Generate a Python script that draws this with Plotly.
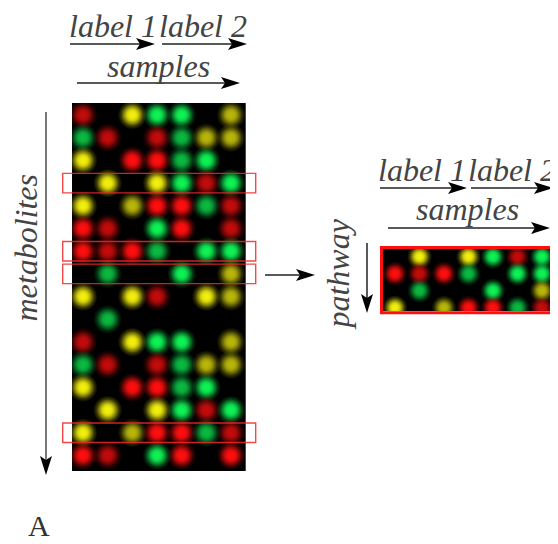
import math
import plotly.graph_objects as go

W, H = 558, 544          # browser window
OX, OY = 8, 8            # default page body margin
FW, FH = W - OX, H - OY  # figure size so the chart fills the window

# ---- data: dot code per metabolite row (7 samples each)
# R/G/Y = bright red/green/yellow, lowercase = weaker, '.' = no signal
metabolite_rows = [
    "r.YGG.y",
    "gr.rgyy",
    "Y.RRgG.",
    ".Y.YGrG",
    "Y.yRRgr",
    "Rr.GR.r",
    "RrRg.GG",
    ".g..G.y",
    "Y.Yr.Yy",
    ".g.....",
    "r.YGG.y",
    "gr.rgyy",
    "Y.RRgG.",
    ".Y.YGrG",
    "Y.yRRgr",
    "Rr.GR.R",
]
pathway_rows = [3, 6, 7, 14]
base_colors = {"R": (255, 14, 14), "G": (14, 242, 84), "Y": (242, 238, 14)}
levels = {True: 1.0, False: 0.76}

n_rows = len(metabolite_rows)


def rgb(c, k=1.0, a=None):
    v = tuple(max(0, min(255, round(x * k))) for x in c)
    if a is None:
        return "rgb(%d,%d,%d)" % v
    return "rgba(%d,%d,%d,%g)" % (v + (a,))


def dots(rows, row_ids):
    xs, ys, cols = [], [], []
    for k, r in enumerate(row_ids):
        for j, ch in enumerate(rows[r]):
            if ch == ".":
                continue
            xs.append(j)
            ys.append(k)
            cols.append((base_colors[ch.upper()], levels[ch.isupper()]))
    return xs, ys, cols


def px(x):
    return (x - OX) / FW


def py(y):
    return 1 - (y - OY) / FH


fig = go.Figure()


def add_dots(xs, ys, cols, xa, ya, sizes):
    # plotly radial gradient: gradient.color at centre -> marker.color at rim
    for size in sizes:
        fig.add_trace(go.Scatter(
            x=xs, y=ys, mode="markers", xaxis=xa, yaxis=ya, hoverinfo="skip",
            marker=dict(size=size, color=[rgb(c, l, 0) for c, l in cols], line_width=0,
                        gradient=dict(type="radial", color=[rgb(c, l) for c, l in cols])),
            showlegend=False))


xs, ys, cols = dots(metabolite_rows, list(range(n_rows)))
add_dots(xs, ys, cols, "x", "y", (29, 22, 15))
xs2, ys2, cols2 = dots(metabolite_rows, pathway_rows)
add_dots(xs2, ys2, cols2, "x2", "y2", (25, 19, 13))

# layout geometry (pixels in the window)
L_left, L_right, L_top, L_bot = 72, 245.7, 103, 471
c0, cstep = 83, 24.67
r0, rstep = 115, 22.7
R_left, R_right, R_top, R_bot = 383, 552, 249, 311
rc0, rcstep = 395, 24.5
rr0, rrstep = 256.7, 17

ax_common = dict(showgrid=False, zeroline=False, showticklabels=False, ticks="", showline=False)
fig.update_layout(
    width=FW, height=FH, margin=dict(l=0, r=0, t=0, b=0),
    paper_bgcolor="white", plot_bgcolor="black",
    xaxis=dict(domain=[px(L_left), px(L_right)],
               range=[(L_left - c0) / cstep, (L_right - c0) / cstep], **ax_common),
    yaxis=dict(domain=[py(L_bot), py(L_top)],
               range=[(L_bot - r0) / rstep, (L_top - r0) / rstep], **ax_common),
    xaxis2=dict(domain=[px(R_left), px(R_right)], anchor="y2",
                range=[(R_left - rc0) / rcstep, (R_right - rc0) / rcstep], **ax_common),
    yaxis2=dict(domain=[py(R_bot), py(R_top)], anchor="x2",
                range=[(R_bot - rr0) / rrstep, (R_top - rr0) / rrstep], **ax_common),
)

shapes = []

# highlight boxes on the left heatmap
for r in pathway_rows:
    shapes.append(dict(type="rect", xref="paper", yref="y", x0=px(62.7), x1=px(255.7),
                       y0=r - 0.43, y1=r + 0.43, line=dict(color="rgba(240,40,40,0.85)", width=1.4)))

# red frame around pathway panel
shapes.append(dict(type="rect", xref="paper", yref="paper", x0=px(381.5), x1=px(553.5),
                   y0=py(312.8), y1=py(247.5), line=dict(color="#ff1010", width=3)))


def arrow(x0, y0, x1, y1, lc="#222", lw=1.5, hl=19, hw=6, notch=4):
    L = math.hypot(x1 - x0, y1 - y0)
    ux, uy = (x1 - x0) / L, (y1 - y0) / L
    nx_, ny_ = -uy, ux
    bx, by = x1 - ux * hl, y1 - uy * hl
    kx, ky = x1 - ux * (hl - notch), y1 - uy * (hl - notch)
    shapes.append(dict(type="line", xref="paper", yref="paper", x0=px(x0), y0=py(y0),
                       x1=px(kx), y1=py(ky), line=dict(color=lc, width=lw)))
    pts = [(x1, y1), (bx + nx_ * hw, by + ny_ * hw), (kx, ky), (bx - nx_ * hw, by - ny_ * hw)]
    path = "M " + " L ".join("%.5f,%.5f" % (px(a), py(b)) for a, b in pts) + " Z"
    shapes.append(dict(type="path", xref="paper", yref="paper", path=path,
                       fillcolor="black", line=dict(width=0)))


arrow(70, 44, 155, 44)
arrow(162, 44, 247, 44)
arrow(77, 83, 240, 83)
arrow(46, 112, 46, 475, lc="#777", lw=2)
arrow(265, 275, 315, 275)
arrow(380, 188, 467, 188)
arrow(471, 188, 553, 188)
arrow(388, 228, 550, 228)
arrow(367, 243, 367, 313)

fig.update_layout(shapes=shapes)


def label(text, cx, cy, size=32, angle=0, color="#444", style="italic"):
    fig.add_annotation(text=text, x=px(cx), y=py(cy), xref="paper", yref="paper",
                       showarrow=False, xanchor="center", yanchor="middle", textangle=angle,
                       font=dict(family="Liberation Serif", size=size, color=color, style=style))


label("label 1", 113, 26.2)
label("label 2", 203, 26.2)
label("samples", 158, 66.5)
label("metabolites", 25.5, 248, angle=-90)
label("label 1", 422, 169.5)
label("label 2", 512, 169.5)
label("samples", 468, 208.5)
label("pathway", 337.6, 274, angle=-90)
label("A", 39, 525, size=30, color="#333", style="normal")

fig.write_html("out.html")
